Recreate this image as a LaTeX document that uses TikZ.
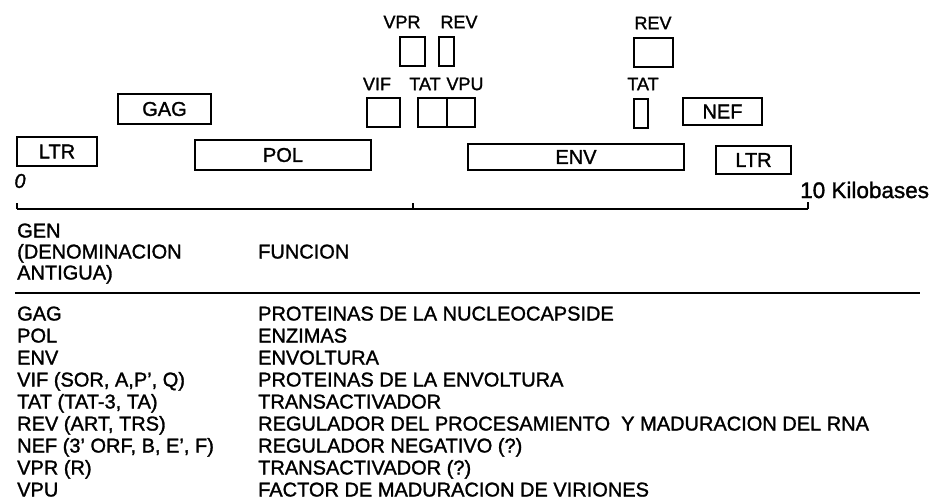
\documentclass[tikz,border=0pt]{standalone}
\usepackage{fontspec}
\setmainfont{Liberation Sans}[FakeBold=1.4]
\begin{document}
\begin{tikzpicture}
[
    x=1pt, y=-1pt,
    font=\fontsize{20}{22}\selectfont,
    gene/.style={draw, line width=2pt, inner sep=0pt},
    txt/.style={inner sep=0pt, anchor=base west},
    genetag/.style={inner sep=0pt, font=\fontsize{18}{20}\selectfont}
]
    \useasboundingbox (0,0) rectangle (931,500);
    % genes on the map
    \node [gene, minimum width=80pt, minimum height=29pt] (ltrA) at (57,151.5) {LTR};
    \node [gene, minimum width=93pt, minimum height=30pt] (gag) at (164.5,109) {GAG};
    \node [gene, minimum width=176pt, minimum height=30pt] (pol) at (283,155) {POL};
    \node [gene, minimum width=33pt, minimum height=29pt] (vif) at (383.5,112.5) {};
    \node [gene, minimum width=29pt, minimum height=29pt] (tatA) at (432.5,112.5) {};
    \node [gene, minimum width=28pt, minimum height=29pt] (vpu) at (461,112.5) {};
    \node [gene, minimum width=25pt, minimum height=29pt] (vpr) at (412.5,51.5) {};
    \node [gene, minimum width=15pt, minimum height=29pt] (revA) at (446.5,51.5) {};
    \node [gene, minimum width=39pt, minimum height=29pt] (revB) at (653.5,52.5) {};
    \node [gene, minimum width=14pt, minimum height=29pt] (tatB) at (641,113.5) {};
    \node [gene, minimum width=79pt, minimum height=27pt] (nef) at (722.5,111.5) {NEF};
    \node [gene, minimum width=216pt, minimum height=26pt] (env) at (576,157) {ENV};
    \node [gene, minimum width=75pt, minimum height=28pt] (ltrB) at (753.5,160) {LTR};

    \node [genetag] (vprtag) at (402,22) {VPR};
    \node [genetag] (revAtag) at (459,22) {REV};
    \node [genetag] (viftag) at (377,84) {VIF};
    \node [genetag] (tatAtag) at (425,84) {TAT};
    \node [genetag] (vputag) at (465,84) {VPU};
    \node [genetag] (revBtag) at (653,23) {REV};
    \node [genetag] (tatBtag) at (643,84) {TAT};

    % scale
    \coordinate (ax0) at (17,209);
    \coordinate (ax5) at (413,209);
    \coordinate (ax10) at (808,209);
    \draw [line width=1.6pt] (ax0) -- (ax10);
    \draw [line width=1.6pt] ([yshift=6pt]ax0) -- (ax0);
    \draw [line width=1.6pt] ([yshift=6pt]ax5) -- (ax5);
    \draw [line width=1.6pt] ([yshift=7pt]ax10) -- (ax10);
    \node [inner sep=0pt, font=\fontsize{20}{22}\selectfont\itshape] (zero) at (20,181) {0};
    \node [inner sep=0pt, anchor=west, font=\fontsize{22.5}{24}\selectfont] (kb) at (800,190) {10 Kilobases};

    % table
    \node [txt] (gen) at (17,237.5) {GEN};
    \node [txt] (denom) at (17,258.5) {(DENOMINACION};
    \node [txt] (antigua) at (17,279.5) {ANTIGUA)};
    \node [txt] (funcion) at (258,258.5) {FUNCION};
    \coordinate (rulel) at (15,293);
    \coordinate (ruler) at (920,293);
    \draw [line width=1.6pt] (rulel) -- (ruler);
    \foreach \g/\f [count=\i from 0] in {
        {GAG}/{PROTEINAS DE LA NUCLEOCAPSIDE},
        {POL}/{ENZIMAS},
        {ENV}/{ENVOLTURA},
        {VIF (SOR, A,P', Q)}/{PROTEINAS DE LA ENVOLTURA},
        {TAT (TAT-3, TA)}/{TRANSACTIVADOR},
        {REV (ART, TRS)}/{REGULADOR DEL PROCESAMIENTO\ \ Y MADURACION DEL RNA},
        {NEF (3' ORF, B, E', F)}/{REGULADOR NEGATIVO (?)},
        {VPR (R)}/{TRANSACTIVADOR (?)},
        {VPU}/{FACTOR DE MADURACION DE VIRIONES}}
    {
        \node [txt] (g\i) at (17,320.5+22*\i) {\g};
        \node [txt] (f\i) at (258,320.5+22*\i) {\f};
    }
\end{tikzpicture}
\end{document}
